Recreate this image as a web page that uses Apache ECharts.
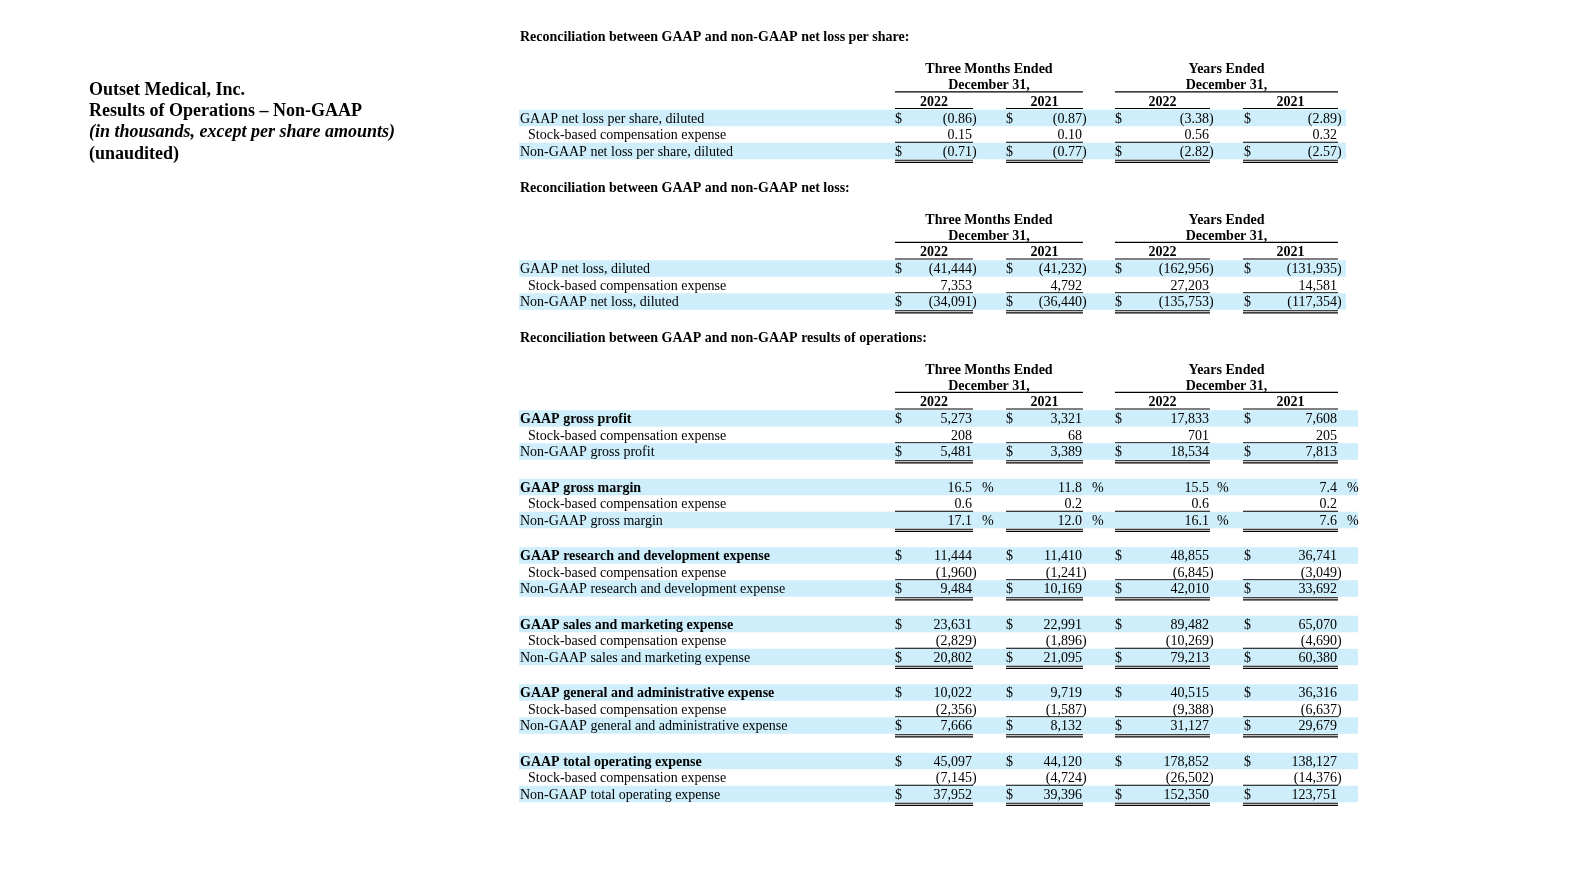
<!DOCTYPE html>
<html><head><meta charset="utf-8">
<script src="https://cdn.jsdelivr.net/npm/echarts@6/dist/echarts.min.js"></script>
<style>html,body{margin:0;padding:0;background:#fff}#c{width:1583px;height:890px}</style>
</head><body><div id="c"></div>
<script>
// ---------------- DATA ----------------
const companyTitle = ['Outset Medical, Inc.', 'Results of Operations \u2013 Non-GAAP', '(in thousands, except per share amounts)', '(unaudited)'];
const sectionTitles = [
  'Reconciliation between GAAP and non-GAAP net loss per share:',
  'Reconciliation between GAAP and non-GAAP net loss:',
  'Reconciliation between GAAP and non-GAAP results of operations:'
];
const periodHeaders = ['Three Months Ended', 'Years Ended'];
const periodSubHeader = 'December 31,';
const yearLabels = ['2022', '2021', '2022', '2021'];

// Section 1: net loss per share
const perShareLabels = ['GAAP net loss per share, diluted', 'Stock-based compensation expense', 'Non-GAAP net loss per share, diluted'];
const perShareQ2022 = [-0.86, 0.15, -0.71];
const perShareQ2021 = [-0.87, 0.10, -0.77];
const perShareY2022 = [-3.38, 0.56, -2.82];
const perShareY2021 = [-2.89, 0.32, -2.57];

// Section 2: net loss
const netLossLabels = ['GAAP net loss, diluted', 'Stock-based compensation expense', 'Non-GAAP net loss, diluted'];
const netLossQ2022 = [-41444, 7353, -34091];
const netLossQ2021 = [-41232, 4792, -36440];
const netLossY2022 = [-162956, 27203, -135753];
const netLossY2021 = [-131935, 14581, -117354];

// Section 3: results of operations
const grossProfitLabels = ['GAAP gross profit', 'Stock-based compensation expense', 'Non-GAAP gross profit'];
const grossProfitQ2022 = [5273, 208, 5481];
const grossProfitQ2021 = [3321, 68, 3389];
const grossProfitY2022 = [17833, 701, 18534];
const grossProfitY2021 = [7608, 205, 7813];

const grossMarginLabels = ['GAAP gross margin', 'Stock-based compensation expense', 'Non-GAAP gross margin'];
const grossMarginQ2022 = [16.5, 0.6, 17.1];
const grossMarginQ2021 = [11.8, 0.2, 12.0];
const grossMarginY2022 = [15.5, 0.6, 16.1];
const grossMarginY2021 = [7.4, 0.2, 7.6];

const rndLabels = ['GAAP research and development expense', 'Stock-based compensation expense', 'Non-GAAP research and development expense'];
const rndQ2022 = [11444, -1960, 9484];
const rndQ2021 = [11410, -1241, 10169];
const rndY2022 = [48855, -6845, 42010];
const rndY2021 = [36741, -3049, 33692];

const smLabels = ['GAAP sales and marketing expense', 'Stock-based compensation expense', 'Non-GAAP sales and marketing expense'];
const smQ2022 = [23631, -2829, 20802];
const smQ2021 = [22991, -1896, 21095];
const smY2022 = [89482, -10269, 79213];
const smY2021 = [65070, -4690, 60380];

const gaLabels = ['GAAP general and administrative expense', 'Stock-based compensation expense', 'Non-GAAP general and administrative expense'];
const gaQ2022 = [10022, -2356, 7666];
const gaQ2021 = [9719, -1587, 8132];
const gaY2022 = [40515, -9388, 31127];
const gaY2021 = [36316, -6637, 29679];

const totalLabels = ['GAAP total operating expense', 'Stock-based compensation expense', 'Non-GAAP total operating expense'];
const totalQ2022 = [45097, -7145, 37952];
const totalQ2021 = [44120, -4724, 39396];
const totalY2022 = [178852, -26502, 152350];
const totalY2021 = [138127, -14376, 123751];

// ---------------- LAYOUT / STYLE ----------------
const W = 1583, H = 890;
const FONT = '"Liberation Serif", "Times New Roman", serif';
const BAND = '#cdeefa';
const COLS = [
  { dollar: 895, right: 972, pct: 982, ul0: 895, ul1: 973 },
  { dollar: 1006, right: 1082, pct: 1092, ul0: 1006, ul1: 1083 },
  { dollar: 1115, right: 1209, pct: 1217, ul0: 1115, ul1: 1210 },
  { dollar: 1244, right: 1337, pct: 1347, ul0: 1243, ul1: 1338 }
];
const GROUPS = [{ x0: 895, x1: 1083 }, { x0: 1115, x1: 1338 }];
const LABEL_X = 520, INDENT_X = 528, BAND_X = 519;
const ROW_H = 16.5, BAND_H = 16.5;
const TY = 1;
const SECTION_TOP = [36.5, 187, 337];
const SECTION_BAND_RIGHT = [1346, 1346, 1358];

function fmt(v, d) {
  const s = Math.abs(v).toLocaleString('en-US', { minimumFractionDigits: d, maximumFractionDigits: d });
  return v < 0 ? '(' + s : s;
}

const sections = [
  [{ labels: perShareLabels, cols: [perShareQ2022, perShareQ2021, perShareY2022, perShareY2021], dec: 2, bold: false, pct: false }],
  [{ labels: netLossLabels, cols: [netLossQ2022, netLossQ2021, netLossY2022, netLossY2021], dec: 0, bold: false, pct: false }],
  [
    { labels: grossProfitLabels, cols: [grossProfitQ2022, grossProfitQ2021, grossProfitY2022, grossProfitY2021], dec: 0, bold: true, pct: false },
    { labels: grossMarginLabels, cols: [grossMarginQ2022, grossMarginQ2021, grossMarginY2022, grossMarginY2021], dec: 1, bold: true, pct: true },
    { labels: rndLabels, cols: [rndQ2022, rndQ2021, rndY2022, rndY2021], dec: 0, bold: true, pct: false },
    { labels: smLabels, cols: [smQ2022, smQ2021, smY2022, smY2021], dec: 0, bold: true, pct: false },
    { labels: gaLabels, cols: [gaQ2022, gaQ2021, gaY2022, gaY2021], dec: 0, bold: true, pct: false },
    { labels: totalLabels, cols: [totalQ2022, totalQ2021, totalY2022, totalY2021], dec: 0, bold: true, pct: false }
  ]
];

const GROUP_PITCH = 68.5;
const rows = [];
const headers = [];
sections.forEach((groups, si) => {
  const top = SECTION_TOP[si];
  headers.push({ si, y: top });
  const firstRow = top + 81.5;
  groups.forEach((g, gi) => {
    for (let r = 0; r < 3; r++) {
      rows.push({ y: firstRow + gi * GROUP_PITCH + r * ROW_H, si, g, r });
    }
  });
});

function txt(x, y, text, font, align, color) {
  return { type: 'text', x, y: y + TY, silent: true,
    style: { text, font, fill: color || '#000', textAlign: align || 'left', align: align || 'left', textVerticalAlign: 'middle', verticalAlign: 'middle' } };
}
function hline(x0, x1, y, w) {
  return { type: 'line', silent: true, shape: { x1: x0, y1: y, x2: x1, y2: y }, style: { stroke: '#000', lineWidth: w || 1 } };
}

const chart = echarts.init(document.getElementById('c'), null, { renderer: 'canvas' });
chart.setOption({
  animation: false,
  backgroundColor: '#fff',
  grid: { left: 0, right: 0, top: 0, bottom: 0 },
  xAxis: { type: 'value', min: 0, max: W, show: false },
  yAxis: { type: 'value', min: 0, max: H, inverse: true, show: false },
  series: [
    {
      type: 'custom', silent: true, clip: false,
      data: companyTitle.map((t, i) => [89, 89 + i * 21.3]),
      renderItem(params, api) {
        const p = api.coord([api.value(0), api.value(1)]);
        const i = params.dataIndex;
        const f = (i === 2 ? 'italic bold ' : 'bold ') + '18px ' + FONT;
        return txt(p[0], p[1], companyTitle[i], f);
      }
    },
    {
      type: 'custom', silent: true, clip: false,
      data: headers.map(h => [LABEL_X, h.y]),
      renderItem(params, api) {
        const h = headers[params.dataIndex];
        const p = api.coord([api.value(0), api.value(1)]);
        const X = x => api.coord([x, 0])[0];
        const y = p[1];
        const bf = 'bold 14px ' + FONT;
        const ch = [txt(p[0], y, sectionTitles[h.si], bf)];
        GROUPS.forEach((g, gi) => {
          const cx = (X(g.x0) + X(g.x1)) / 2;
          ch.push(txt(cx, y + 32.2, periodHeaders[gi], bf, 'center'));
          ch.push(txt(cx, y + 48.3, periodSubHeader, bf, 'center'));
          ch.push(hline(X(g.x0), X(g.x1), y + 55.3, 1.2));
        });
        COLS.forEach((c, ci) => {
          ch.push(txt((X(c.ul0) + X(c.ul1)) / 2, y + 64.7, yearLabels[ci], bf, 'center'));
          ch.push(hline(X(c.ul0), X(c.ul1), y + 72, 1.2));
        });
        return { type: 'group', children: ch };
      }
    },
    {
      type: 'custom', silent: true, clip: false,
      data: rows.map(r => [LABEL_X, r.y]),
      renderItem(params, api) {
        const row = rows[params.dataIndex];
        const g = row.g, r = row.r;
        const p = api.coord([api.value(0), api.value(1)]);
        const X = x => api.coord([x, 0])[0];
        const y = p[1];
        const f = '14px ' + FONT;
        const ch = [];
        if (r !== 1) {
          ch.push({ type: 'rect', silent: true,
            shape: { x: X(BAND_X), y: y - BAND_H / 2, width: X(SECTION_BAND_RIGHT[row.si]) - X(BAND_X), height: BAND_H },
            style: { fill: BAND } });
        }
        const lf = (r === 0 && g.bold ? 'bold ' : '') + f;
        ch.push(txt(r === 1 ? X(INDENT_X) : p[0], y, g.labels[r], lf));
        COLS.forEach((c, ci) => {
          const v = g.cols[ci][r];
          ch.push(txt(X(c.right), y, fmt(v, g.dec), f, 'right'));
          if (v < 0) ch.push(txt(X(c.right), y, ')', f, 'left'));
          if (r !== 1) {
            if (g.pct) ch.push(txt(X(c.pct), y, '%', f, 'left'));
            else ch.push(txt(X(c.dollar), y, '$', f, 'left'));
          }
          if (r === 1) ch.push(hline(X(c.ul0), X(c.ul1), y + ROW_H / 2 - 0.3, 1.2));
          if (r === 2) {
            ch.push(hline(X(c.ul0), X(c.ul1), y + BAND_H / 2 + 1, 1.2));
            ch.push(hline(X(c.ul0), X(c.ul1), y + BAND_H / 2 + 3.2, 1.2));
          }
        });
        return { type: 'group', children: ch };
      }
    }
  ]
});
</script>
</body></html>
